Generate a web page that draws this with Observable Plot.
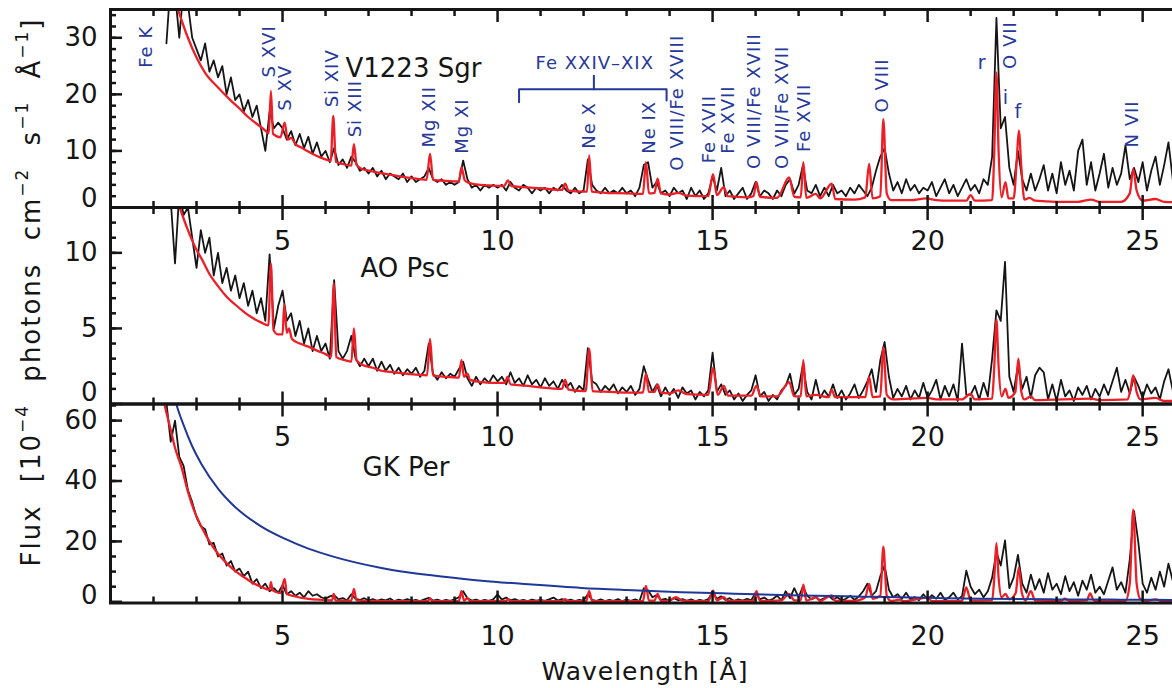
<!DOCTYPE html>
<html><head><meta charset="utf-8">
<script src="https://cdn.jsdelivr.net/npm/d3@7"></script>
<script src="https://cdn.jsdelivr.net/npm/@observablehq/plot@0.6"></script>
<style>
html,body{margin:0;padding:0;background:#fff;overflow:hidden}
#wrap{position:relative;width:1172px;height:688px;overflow:hidden;background:#fff}
#wrap svg{position:absolute;left:0;top:0}
</style></head><body><div id="wrap"></div>
<script>
// ---------- DATA ----------
// observed spectra: 0.1 Å bins from 2.3 Å to 25.7 Å (flux in 1e-4 photons cm^-2 s^-1 Å^-1)
const obsWavelength = d3.range(235).map(i => Math.round((2.3 + i * 0.1) * 10) / 10);

const v1223Obs = [
  29, 40, 38, 30, 39, 36, 30,
  28, 26, 29, 24, 26, 23, 25, 20, 23, 19,
  20, 17, 19, 16, 18, 14, 10, 17, 14, 15,
  14, 12, 13.5, 11, 13, 10.5, 12.5, 9.5, 11.5, 9,
  10, 8, 10.5, 7.5, 8.5, 7, 9, 8, 6.5, 7,
  6, 7, 5.5, 6.5, 5, 6, 5.5, 5, 6, 4.5,
  5.5, 4.5, 5, 5.5, 7, 5, 4.5, 5, 4, 4.5,
  4, 4.5, 8.3, 5, 3.5, 4, 3, 4, 3.5, 4,
  3.5, 4, 3, 4.5, 3.5, 3, 4, 3.5, 2.5, 3.5,
  3, 3.5, 2.5, 3.5, 3, 4, 3, 2.5, 3.5, 2.5,
  3, 8.5, 4, 3, 2.5, 3.5, 2.5, 3, 2.5, 3.5,
  2.5, 3, 2, 3.5, 7.5, 8, 3.5, 4.5, 2.5, 3,
  2, 3.5, 2.5, 3, 1.5, 3.5, 2, 3, 1.5, 2.5,
  5.5, 3, 7, 2, 3, 1.5, 2.5, 3.5, 1.5, 2.5,
  4.5, 2, 3, 2.5, 1.5, 3, 2, 4, 5, 2.5,
  4, 7.5, 3, 2.5, 4, 2, 3.5, 2, 4, 2.5,
  3, 2, 3.5, 2.5, 4, 3, 2, 3.5, 6.5, 9,
  10.5, 6, 3, 4.5, 2.5, 5, 3, 4, 2.5, 3.5,
  3, 4.5, 2, 3.5, 5, 2.5, 4, 2, 3.5, 5,
  3, 4, 2.5, 5, 4, 9, 33.5, 14, 16, 7,
  4, 10, 5, 3, 6, 3, 5, 7.5, 3, 6,
  2.5, 8, 4, 6.5, 3, 10, 12, 4, 8, 3,
  6, 9.5, 3.5, 7, 4, 6, 11, 5, 7, 4.5,
  8, 3, 6.5, 9, 4, 7.5, 11.5, 5
];
const aoPscObs = [
  null, 13.5, 9.3, 14, 12.5, 13, 11,
  9, 11.5, 10, 11, 8.5, 10, 8, 9, 7.5, 8.5,
  7, 8, 6.5, 7.5, 6, 7, 5.5, 9.9, 5, 6.5,
  7.5, 5.5, 6, 4.5, 5.5, 4, 5, 3.5, 4.5, 3.5,
  4, 3, 8.2, 3.5, 3, 3.5, 4.5, 3, 2.5, 3,
  2.5, 3, 2.2, 2.8, 2.2, 2.6, 2, 2.4, 1.9, 2.3,
  2, 2.4, 1.8, 2.2, 4, 2, 1.6, 2.1, 1.7, 2,
  1.8, 2.3, 2.8, 1.7, 1.2, 1.8, 1.3, 1.7, 1.4, 1.9,
  1.5, 1.8, 1.3, 2.1, 1.4, 1.7, 1.2, 1.9, 1.3, 1.6,
  1.1, 1.7, 1.2, 1.5, 1.0, 1.6, 1.1, 1.4, 0.8, 1.2,
  0.9, 3.7, 1.5, 1.3, 0.8, 1.2, 0.9, 1.3, 0.7, 1.1,
  0.8, 1.2, 0.6, 1.0, 2.5, 1.6, 0.8, 1.3, 0.5, 1.1,
  0.6, 1.0, 0.4, 1.1, 0.7, 0.9, 0.3, 0.8, 0.5, 0.9,
  3.4, 0.8, 1.3, 0.6, 0.9, 0.3, 0.7, 0.2, 0.6, 0.9,
  1.9, 0.5, 0.8, 0.2, 0.6, 0.3, 0.9, 1.2, 2.0, 0.6,
  1.0, 2.6, 0.8, 0.3, 1.6, 0.4, 0.9, 0.5, 1.3, 0.4,
  0.9, 0.3, 0.7, 1.3, 0.4, 0.9, 1.5, 2.3, 0.8, 2.9,
  4.1, 1.8, 0.4, 1.0, 0.5, 1.2, 0.3, 0.9, 0.4, 1.4,
  0.4, 0.9, 1.6, 0.3, 1.2, 0.5, 1.3, 0.2, 4.0, 0.6,
  0.6, 1.2, 0.3, 1.4, 0.5, 3.0, 6.2, 5.5, 9.4, 1.8,
  0.8, 2.5, 1.0, 1.8, 0.4, 1.9, 2.4, 2.1, 0.3, 1.3,
  0.2, 1.6, 0.5, 0.9, 0.2, 1.1, 0.6, 1.2, 0.3, 1.0,
  0.5, 1.3, 0.6, 1.5, 2.4, 0.8, 1.6, 0.7, 1.8, 1.2,
  0.4, 1.3, 0.7, 1.1, 0.3, 1.5, 2.3, 0.9
];
const gkPerObs = [
  66, 53, 60, 48, 45, 37, 33,
  28, 25, 24, 19, 19.5, 15, 16, 12, 13.5, 10,
  11, 8.5, 10, 6, 7.5, 4.5, 6, 3.5, 4.5, 3,
  5.5, 2.5, 3.5, 2, 3, 1.5, 3.5, 2, 2.5, 1.5,
  1, 1.8, 2.2, 0.8, 1.2, 0.5, 2.5, 1.0, 0.6, 1.2,
  0.4, 0.9, 0.3, 0.8, 0.5, 1.1, 0.2, 0.7, 0.4, 0.9,
  0.3, 0.6, 0.2, 0.8, 1.3, 0.4, 0.7, 0.2, 0.6, 0.3,
  0.8, 1.5, 3.5, 1.2, 0.4, 0.7, 0.2, 0.6, 0.3, 0.8,
  2.5, 0.7, 1.4, 0.5, 0.9, 0.3, 0.6, 0.2, 0.7, 0.4,
  0.6, 0.3, 0.8, 1.4, 0.4, 0.9, 0.3, 0.7, 0.2, 0.6,
  0.4, 2.5, 0.6, 0.3, 0.8, 0.2, 0.6, 0.3, 0.9, 0.2,
  0.7, 0.3, 0.8, 0.2, 4.5, 3.8, 1.5, 2.2, 0.6, 1.0,
  0.3, 1.2, 0.5, 0.9, 0.3, 0.8, 0.2, 0.6, 0.3, 0.9,
  3.0, 1.0, 1.8, 0.6, 1.2, 0.3, 0.8, 0.4, 1.0, 0.5,
  3.0, 0.8, 1.4, 0.4, 0.9, 2.0, 0.5, 3.5, 1.2, 4.5,
  1.5, 5.0, 2.0, 0.8, 1.6, 0.5, 1.2, 2.0, 0.7, 1.5,
  0.4, 1.0, 2.0, 0.6, 1.8, 3.5, 6.0, 2.0, 3.5, 8.5,
  12, 4.0, 1.5, 2.5, 1.0, 3.0, 0.8, 1.6, 0.5, 2.5,
  0.8, 2.2, 1.0, 3.0, 0.6, 1.5, 3.0, 0.8, 1.8, 10.3,
  5.0, 2.5, 4.0, 1.5, 3.5, 8.0, 16.4, 12, 20.3, 4.5,
  8, 15.5, 6, 3, 9, 4, 7.5, 3, 9.5, 4,
  6, 2.5, 8.5, 3.5, 6.5, 2, 7, 4, 9, 3,
  5, 2.5, 7, 11.4, 4, 6.5, 3, 14, 30, 19.7,
  6, 3, 8, 4, 10, 5, 12.6, 7
];

// best-fit models (red)
const v1223ModelWl = [2.57,2.8,3.0,3.2,3.5,3.8,4.0,4.2,4.4,4.6,4.68,4.73,4.78,4.95,5.05,5.12,5.2,5.3,5.44,5.6,5.8,6.0,6.12,6.18,6.24,6.4,6.6,6.66,6.72,6.8,7.0,7.2,7.5,7.8,8.0,8.35,8.43,8.5,8.8,9.1,9.16,9.24,9.32,9.5,9.8,10.15,10.24,10.32,10.6,11.0,11.5,11.57,11.65,12.0,12.08,12.13,12.19,12.5,13.0,13.38,13.45,13.52,13.65,13.72,13.8,14.0,14.2,14.4,14.9,15.01,15.1,15.26,15.35,15.8,15.95,16.02,16.1,16.5,16.78,16.9,17.05,17.11,17.18,17.4,17.5,17.77,17.85,18.3,18.55,18.64,18.72,18.9,18.97,19.05,19.15,19.6,19.97,20.2,20.5,20.9,21.0,21.1,21.5,21.55,21.6,21.65,21.72,21.81,21.88,22.0,22.07,22.12,22.18,22.25,22.37,22.5,23.0,23.5,23.8,24.0,24.5,24.7,24.78,24.86,25.0,25.3,25.5,25.88];
const v1223ModelFlux = [35,30,26.5,23.8,21.2,18.9,17.5,16.0,14.8,13.6,13.1,20.6,13.0,12.4,15.0,12.0,12.3,11.2,10.6,9.9,9.1,8.5,8.2,16.2,8.1,7.7,7.4,11.2,7.6,7.0,6.5,6.2,5.8,5.4,5.2,4.9,9.5,4.9,4.7,4.6,7.1,4.8,4.4,4.1,3.9,3.8,4.8,3.8,3.6,3.4,3.1,4.2,3.0,2.8,2.8,9.2,2.8,2.6,2.5,2.4,8.0,2.5,2.6,5.1,2.5,2.3,2.6,2.1,2.0,5.9,2.2,3.6,2.0,1.8,2.0,4.5,1.9,1.7,5.3,1.9,1.8,8.0,1.7,2.4,1.6,4.2,1.5,1.4,1.8,7.7,1.6,2.0,15.6,2.5,1.3,1.3,1.6,1.3,1.2,1.2,2.2,1.2,1.3,10,23.9,10,1.8,4.5,1.6,1.6,8,13.6,7,1.4,1.7,1.2,1.0,1.0,1.4,1.0,1.0,2.5,6.8,3.0,1.2,1.5,1.0,0.9];

const aoPscModelWl = [2.61,2.8,3.0,3.12,3.3,3.5,3.7,3.89,4.1,4.3,4.5,4.67,4.73,4.79,4.9,5.0,5.04,5.1,5.15,5.22,5.4,5.6,5.83,6.0,6.13,6.19,6.25,6.45,6.6,6.66,6.72,6.85,7.1,7.3,7.6,7.9,8.36,8.43,8.5,8.8,9.1,9.16,9.22,9.3,9.36,9.63,9.9,10.17,10.23,10.3,10.7,11.0,11.5,11.57,11.65,12.05,12.13,12.21,12.6,13.0,13.38,13.45,13.52,13.65,13.72,13.8,14.0,14.2,14.4,14.9,15.01,15.12,15.26,15.36,15.9,16.02,16.12,16.5,16.78,16.9,17.05,17.11,17.18,17.4,17.7,17.77,17.85,18.55,18.64,18.72,18.9,18.97,19.05,19.2,20.0,20.2,20.8,21.0,21.1,21.5,21.55,21.6,21.65,21.72,21.81,21.88,22.04,22.11,22.18,22.25,22.4,22.5,23.8,24.0,24.65,24.72,24.78,24.86,24.95,25.3,25.5,25.88];
const aoPscModelFlux = [13,11.5,10.2,9.6,8.6,7.8,7.1,6.6,6.1,5.7,5.4,5.2,9.3,4.9,4.6,4.6,6.6,4.7,5.0,4.3,4.0,3.8,3.5,3.3,3.1,8.0,3.1,2.9,2.8,5.0,2.9,2.6,2.4,2.2,2.1,2.0,1.9,4.3,1.9,1.8,1.75,2.9,1.8,2.0,1.6,1.45,1.4,1.4,1.8,1.3,1.2,1.1,1.0,1.6,0.95,0.85,3.65,0.85,0.8,0.75,0.75,2.0,0.8,0.8,1.3,0.75,0.7,0.9,0.65,0.6,2.4,0.6,1.2,0.55,0.55,1.2,0.5,0.5,1.45,0.5,0.5,2.9,0.5,0.6,0.45,0.94,0.45,0.45,1.8,0.45,0.5,3.75,0.6,0.3,0.4,0.3,0.3,0.67,0.3,0.35,2.5,5.6,2.5,0.5,1.0,0.4,0.8,3.0,0.8,0.3,0.5,0.25,0.35,0.25,0.3,1.0,1.9,0.8,0.3,0.4,0.2,0.2];

const gkPerModelWl = [2.26,2.4,2.5,2.65,2.8,2.95,3.12,3.3,3.5,3.7,3.89,4.1,4.28,4.5,4.67,4.7,4.73,4.77,4.95,5.05,5.1,5.3,5.44,5.6,5.83,6.0,6.15,6.19,6.23,6.6,6.66,6.72,7.0,7.5,8.38,8.43,8.48,9.1,9.16,9.22,9.3,9.36,10.2,10.25,10.3,11.5,11.57,11.64,12.06,12.13,12.2,13.38,13.45,13.52,13.65,13.72,13.8,14.0,14.15,14.3,14.9,15.01,15.1,15.26,15.35,15.95,16.02,16.1,16.6,16.78,16.9,17.05,17.11,17.18,17.4,17.5,17.77,17.85,18.3,18.55,18.64,18.72,18.9,18.97,19.05,19.15,19.35,19.45,20.0,20.1,20.8,20.9,21.0,21.5,21.55,21.6,21.65,21.72,21.81,21.9,22.05,22.12,22.19,22.28,22.4,22.5,23.1,23.19,23.3,23.7,23.78,23.86,24.0,24.6,24.7,24.78,24.86,24.95,25.1,25.3,25.45,25.88];
const gkPerModelFlux = [65,57,51,44.6,36.5,30,24.7,20.0,15.9,12.8,10.3,8.2,6.5,5.0,4.0,4.0,6.5,3.8,2.9,7.6,2.6,1.8,1.3,1.0,0.7,0.55,0.5,2.6,0.5,0.4,4.3,0.5,0.3,0.25,0.2,1.1,0.2,0.2,3.5,0.4,1.2,0.2,0.3,0.9,0.2,0.2,0.9,0.2,0.2,3.5,0.2,0.2,5.3,0.4,0.4,2.6,0.3,0.5,1.5,0.4,0.2,3.7,0.5,1.5,0.3,0.3,3.5,0.3,0.5,2.6,0.5,0.5,5.7,0.4,1.5,0.3,2.1,0.3,0.3,1.5,5.9,1.0,2.0,18.3,2.0,0.3,0.7,0.2,1.4,0.2,0.3,4.8,0.4,0.5,8,19.4,8,1.5,2.6,0.8,3,11.4,3,0.4,3.5,0.4,0.3,1.0,0.3,0.5,2.8,0.5,0.2,0.3,6,30.5,6,0.8,0.3,0.8,0.2,0.2];

// continuum component (blue) for GK Per
const gkPerContWl = [2.45,2.53,2.7,2.9,3.12,3.5,3.89,4.5,5.05,5.6,6.22,7.3,7.77,8.7,9.63,10.8,11.95,13.0,14.28,15.5,17.07,18.5,20.0,21.3,23.0,24.5,25.88];
const gkPerContFlux = [70,65.5,58.5,51.5,45.5,37.5,31.5,25,20.9,17.6,14.8,11.2,10.0,8.4,7.0,5.7,4.6,3.9,3.2,2.7,2.1,1.7,1.3,1.0,0.8,0.7,0.6];

// line identifications (V1223 Sgr panel)
const lineLabelText = ["Fe K","S XVI","S XV","Si XIV","Si XIII","Mg XII","Mg XI","Ne X","Ne IX","O VIII/Fe XVIII","Fe XVII","Fe XVII","O VIII/Fe XVIII","O VII/Fe XVII","Fe XVII","O VIII","O VII","N VII"];
const lineLabelWl   = [1.84,4.68,5.07,6.16,6.70,8.41,9.18,12.13,13.52,14.18,14.92,15.37,15.96,16.62,17.14,18.95,21.93,24.76];
const lineLabelFlux = [24.7,23.0,17.1,17.7,12.4,10.6,9.5,10.4,9.5,6.5,7.8,9.5,6.8,6.8,9.8,16.8,24.5,10.6];
const tripletText = ["r","i","f"];
const tripletWl   = [21.27,21.82,22.11];
const tripletFlux = [25.5,19.3,16.9];
const groupLabel = {text: "Fe XXIV\u2013XIX", wl: 12.26, flux: 25.5};
const bracketWl   = [10.50,10.50,13.93,13.93, 12.24,12.24];
const bracketFlux = [18.6,20.9,20.9,18.9, 20.9,23.3];
const bracketSeg  = [0,0,0,0, 1,1];

// axes
const xMajor = [5,10,15,20,25];
const xMinor = [1,2,3,4,6,7,8,9,11,12,13,14,16,17,18,19,21,22,23,24];
const panelNames = ["V1223 Sgr","AO Psc","GK Per"];

// ---------- DRAW ----------
const INK = "#151515", RED = "#ec1f27", BLUE = "#26399a", BLUECURVE = "#1f3796";
const W = 1180, H = 688, ML = 110;
const FONT = "'DejaVu Sans', sans-serif";
const wrap = document.getElementById("wrap");

function rows(xs, ys, extra = {}) { return xs.map((w, i) => ({w, f: ys[i], ...Object.fromEntries(Object.entries(extra).map(([k, v]) => [k, v[i]]))})); }

function panel(cfg) {
  const marks = [
    Plot.line(rows(obsWavelength, cfg.obs), {x: "w", y: "f", stroke: INK, strokeWidth: 1.8, curve: "linear", clip: true}),
    Plot.line(rows(cfg.modelWl, cfg.modelFlux), {x: "w", y: "f", stroke: RED, strokeWidth: 2.3, curve: "monotone-x", clip: true})
  ];
  if (cfg.contWl) marks.push(Plot.line(rows(cfg.contWl, cfg.contFlux), {x: "w", y: "f", stroke: BLUECURVE, strokeWidth: 2, curve: "monotone-x", clip: true}));
  marks.push(...(cfg.extra || []));
  marks.push(
    Plot.frame({stroke: INK, strokeWidth: 3}),
    Plot.axisX(xMinor, {anchor: "bottom", tickSize: -6, strokeWidth: 2.5, tickFormat: () => "", label: null}),
    Plot.axisX(xMajor, {anchor: "bottom", tickSize: -12, strokeWidth: 2.5, tickFormat: () => "", label: null}),
    Plot.axisX(xMinor, {anchor: "top", tickSize: -6, strokeWidth: 2.5, tickFormat: () => "", label: null}),
    Plot.axisX(xMajor, {anchor: "top", tickSize: -12, strokeWidth: 2.5, tickFormat: () => "", label: null}),
    Plot.axisX(xMajor, {anchor: "bottom", tickSize: 0, tickPadding: 23, fontSize: 27, label: null}),
    Plot.axisY(cfg.yMinor, {anchor: "left", tickSize: -6, strokeWidth: 2.5, tickFormat: () => "", label: null}),
    Plot.axisY(cfg.yMajor, {anchor: "left", tickSize: -12, strokeWidth: 2.5, tickFormat: () => "", label: null}),
    Plot.axisY(cfg.yMajor.filter(d => d !== 0), {anchor: "left", tickSize: 0, tickPadding: 13, fontSize: 26, label: null}),
    Plot.axisY([0], {anchor: "left", tickSize: 0, tickPadding: 13, fontSize: 26, dy: cfg.zeroDy, label: null}),
    Plot.text([cfg.name], {frameAnchor: "top-left", dx: cfg.nameDx, dy: cfg.nameDy, textAnchor: "start", fontSize: 26, fill: INK})
  );
  return Plot.plot({
    width: W, height: H,
    marginLeft: ML, marginRight: 0, marginTop: cfg.top, marginBottom: H - cfg.bottom,
    x: {domain: [1, 25.88], label: null},
    y: {domain: cfg.yDomain, label: null},
    style: {background: "transparent", overflow: "visible", maxWidth: "none", fontFamily: FONT, color: INK},
    marks
  });
}

const labelMarks = [
  Plot.text(rows(lineLabelWl, lineLabelFlux, {t: lineLabelText}), {x: "w", y: "f", text: "t", rotate: -90, textAnchor: "start", fontSize: 18, fill: BLUE}),
  Plot.text(rows(tripletWl, tripletFlux, {t: tripletText}), {x: "w", y: "f", text: "t", textAnchor: "middle", fontSize: 19, fill: BLUE}),
  Plot.text([groupLabel], {x: "wl", y: "flux", text: "text", textAnchor: "middle", fontSize: 18, fill: BLUE}),
  Plot.line(rows(bracketWl, bracketFlux, {s: bracketSeg}), {x: "w", y: "f", z: "s", stroke: BLUE, strokeWidth: 2})
];

const p1 = panel({obs: v1223Obs, modelWl: v1223ModelWl, modelFlux: v1223ModelFlux, yDomain: [0, 35],
  yMajor: [0,10,20,30], yMinor: d3.range(2, 35, 2), zeroDy: -9, top: 9, bottom: 207,
  name: panelNames[0], nameDx: 235, nameDy: 49, extra: labelMarks});
const p2 = panel({obs: aoPscObs, modelWl: aoPscModelWl, modelFlux: aoPscModelFlux, yDomain: [0, 13],
  yMajor: [0,5,10], yMinor: d3.range(1, 14, 1), zeroDy: -11, top: 207, bottom: 403.5,
  name: panelNames[1], nameDx: 250, nameDy: 51});
const p3 = panel({obs: gkPerObs, modelWl: gkPerModelWl, modelFlux: gkPerModelFlux, contWl: gkPerContWl, contFlux: gkPerContFlux,
  yDomain: [-0.4, 65.5], yMajor: [0,20,40,60], yMinor: d3.range(5, 66, 5), zeroDy: -6, top: 403.5, bottom: 602.5,
  name: panelNames[2], nameDx: 252, nameDy: 53.5});
wrap.append(p1, p2, p3);

// letter spacing for blue line identifications
d3.selectAll(`#wrap g[fill="${BLUE}"] text`).style("letter-spacing", "1px");

// axis titles
const ns = "http://www.w3.org/2000/svg";
const t = document.createElementNS(ns, "svg");
t.setAttribute("width", 1172); t.setAttribute("height", 688);
t.innerHTML = `
<g font-family="${FONT}" fill="${INK}">
  <text x="645" y="680" text-anchor="middle" font-size="25" letter-spacing="1">Wavelength [Å]</text>
  <text transform="translate(40,292) rotate(-90)" text-anchor="middle" font-size="26" letter-spacing="2" word-spacing="12">Flux [10<tspan dy="-12" font-size="17">−4</tspan><tspan dy="12"> photons cm</tspan><tspan dy="-12" font-size="17">−2</tspan><tspan dy="12"> s</tspan><tspan dy="-12" font-size="17">−1</tspan><tspan dy="12"> Å</tspan><tspan dy="-12" font-size="17">−1</tspan><tspan dy="12">]</tspan></text>
</g>`;
wrap.append(t);
</script>
</body></html>
